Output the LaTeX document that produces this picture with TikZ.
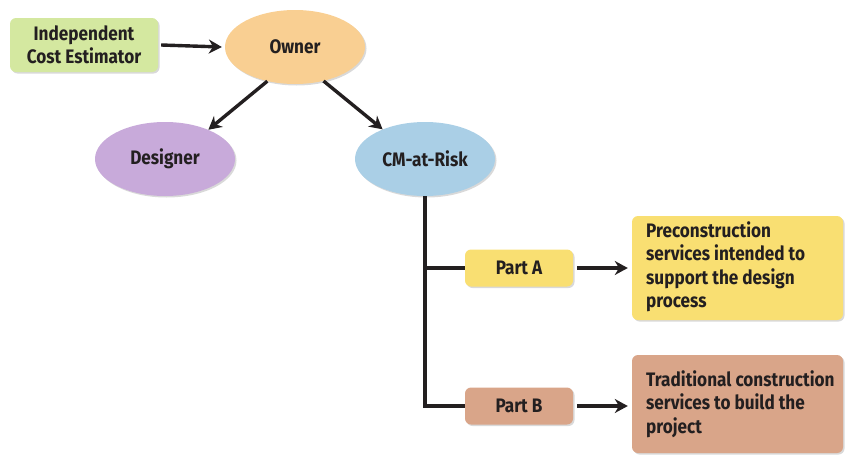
\documentclass[tikz,border=0pt]{standalone}
\usepackage{fontspec}
\setmainfont{Fira Sans}[FakeStretch=0.88]
\usetikzlibrary{arrows.meta,shadows,shapes.geometric}
\definecolor{cgreen}{HTML}{D4E8A0}
\definecolor{corange}{HTML}{F9CF92}
\definecolor{cpurple}{HTML}{C8AADA}
\definecolor{cblue}{HTML}{AACFE6}
\definecolor{cyellow}{HTML}{F9DF72}
\definecolor{cbrown}{HTML}{D9A589}
\definecolor{cline}{HTML}{231F20}
\tikzset{
  x=1pt,y=-1pt,
  every node/.style={font=\fontsize{19.5}{23.5}\selectfont\bfseries, text=cline},
  shade/.style={drop shadow={shadow xshift=1.5pt,shadow yshift=-1.5pt,opacity=0.3,fill=gray}},
  oval/.style={ellipse, minimum width=140pt, minimum height=74pt, inner sep=0pt, shade},
  rbox/.style={rounded corners=6pt, inner sep=0pt, shade},
  conn/.style={line width=3.4pt, draw=cline},
  arr/.style={conn, -{Stealth[length=13pt,width=14pt]}},
}
\begin{document}
\begin{tikzpicture}
\useasboundingbox (0,0) rectangle (845,455);
\node[rbox, fill=cgreen, minimum width=148pt, minimum height=54pt, align=center] (ice) at (84,45) {Independent\\Cost Estimator};
\node[oval, fill=corange] (owner) at (295,47) {Owner};
\node[oval, fill=cpurple] (des) at (165,159) {Designer};
\node[oval, fill=cblue] (cm) at (425,159) {CM-at-Risk};
\node[rbox, fill=cyellow, minimum width=108pt, minimum height=37pt] (pa) at (519,268) {Part A};
\node[rbox, fill=cbrown, minimum width=108pt, minimum height=37pt] (pb) at (519,406) {Part B};
\node[rbox, fill=cyellow, minimum width=211pt, minimum height=104pt] (pre) at (737.5,268) {};
\node[rbox, fill=cbrown, minimum width=211pt, minimum height=98pt] (trad) at (737.5,404) {};
\node[anchor=west, inner sep=0pt, align=left] (pret) at (646,267) {Preconstruction\\services intended to\\support the design\\process};
\node[anchor=west, inner sep=0pt, align=left] (tradt) at (646,404) {Traditional construction\\services to build the\\project\vphantom{g}};
\coordinate (ja) at (425,268);
\coordinate (jb) at (425,406);
\draw[arr] ([xshift=3pt]ice.east) -- ([xshift=-3pt]owner.west);
\draw[arr] (owner.231) -- (des.34);
\draw[arr] (owner.310) -- (cm.145);
\draw[conn] (cm.south) -- (jb) -- (pb.west);
\draw[conn] (ja) -- (pa.west);
\draw[arr] ([xshift=4pt]pa.east) -- ([xshift=-4pt]pre.west |- pa.east);
\draw[arr] ([xshift=4pt]pb.east) -- ([xshift=-4pt]trad.west |- pb.east);
\end{tikzpicture}
\end{document}
